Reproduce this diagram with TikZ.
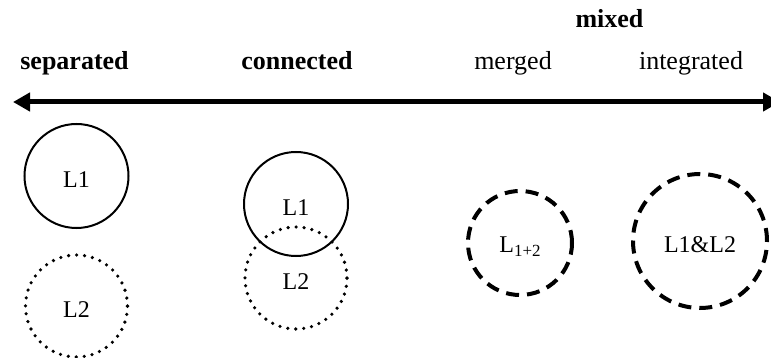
\documentclass[tikz,border=0pt]{standalone}
\usepackage{fontspec}
\setmainfont{Liberation Serif}
\usetikzlibrary{arrows.meta}
\begin{document}
\begin{tikzpicture}[x=1pt,y=-1pt,
  head/.style={font=\fontsize{26}{30}\selectfont\bfseries, anchor=base, inner sep=0pt},
  subhead/.style={font=\fontsize{26}{30}\selectfont, anchor=base, inner sep=0pt},
  lab/.style={font=\fontsize{24}{28}\selectfont, inner sep=0pt},
  solidc/.style={circle, draw, line width=2pt, inner sep=0pt},
  dotc/.style={circle, draw, line width=3.6pt, line cap=round, dash pattern=on 0pt off 8pt, inner sep=0pt},
  dashc/.style={circle, draw, line width=4pt, dash pattern=on 13pt off 8pt, inner sep=0pt},
  axis/.style={line width=5pt, {Triangle[length=17pt,width=18pt]}-{Triangle[length=17pt,width=18pt]}}]
\useasboundingbox (0,0) rectangle (771,358);
% headings
\node[head] (tsep) at (74.5,70) {separated};
\node[head] (tcon) at (297,70) {connected};
\node[head] (tmix) at (609.5,28) {mixed};
\node[subhead] (tmer) at (513,70) {merged};
\node[subhead] (tint) at (691,70) {integrated};
% axis
\coordinate (aL) at (13,102);
\coordinate (aR) at (780,102);
\draw[axis] (aL) -- (aR);
% separated
\node[solidc, minimum size=104pt] (s1) at (76.5,176) {};
\node[dotc, minimum size=102pt] (s2) at (76.5,306) {};
\node[lab] (s1t) at ([yshift=-3.5pt]s1.center) {L1};
\node[lab] (s2t) at ([yshift=-3.5pt]s2.center) {L2};
% connected
\node[solidc, minimum size=104pt] (c1) at (296,204) {};
\node[dotc, minimum size=102pt] (c2) at (296,278) {};
\node[lab] (c1t) at ([yshift=-3.5pt]c1.center) {L1};
\node[lab] (c2t) at ([yshift=-3.5pt]c2.center) {L2};
% merged
\node[dashc, minimum size=104pt] (m) at (520,243) {};
\node[lab] (mt) at ([yshift=-3.5pt]m.center) {L\raisebox{-0.3ex}{\fontsize{17}{18}\selectfont 1+2}};
% integrated
\node[dashc, minimum size=134pt] (i) at (700,241) {};
\node[lab] (it) at ([yshift=-3.5pt]i.center) {L1\&L2};
\end{tikzpicture}
\end{document}
